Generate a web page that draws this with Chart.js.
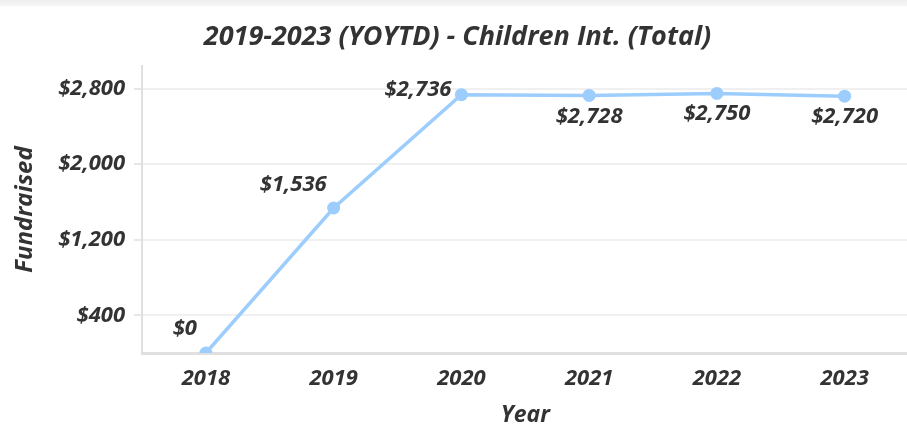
<!DOCTYPE html>
<html>
<head>
<meta charset="utf-8">
<script src="https://cdn.jsdelivr.net/npm/chart.js@4/dist/chart.umd.min.js"></script>
<style>
  html, body { margin: 0; padding: 0; background: #fff; overflow: hidden; }
  #strip { position: absolute; left: 0; top: 0; width: 907px; height: 6px; background: linear-gradient(#efefef, #f6f6f6); }
  #wrap { position: absolute; left: 0; top: 0; width: 915px; height: 439px; }
</style>
</head>
<body>
<div id="wrap"><canvas id="c" width="915" height="439"></canvas></div>
<div id="strip"></div>
<script>
const categories = ['2018', '2019', '2020', '2021', '2022', '2023'];
const fundraised = [0, 1536, 2736, 2728, 2750, 2720];
const yTickValues = [400, 1200, 2000, 2800];
const titleText = '2019-2023 (YOYTD) - Children Int. (Total)';

const TEXT = '#333333';
const FONT = 'Open Sans';

function money(v) { return '$' + Number(v).toLocaleString('en-US'); }

// label placement per point: [dx, dy, textAlign]
const labelPlacement = [
  [-9, -24, 'right'],
  [-7, -23, 'right'],
  [-10, -5, 'right'],
  [0, 21, 'center'],
  [0, 20, 'center'],
  [0, 21, 'center']
];

const valueLabels = {
  id: 'valueLabels',
  afterDatasetsDraw(chart) {
    const ctx = chart.ctx;
    const meta = chart.getDatasetMeta(0);
    ctx.save();
    ctx.font = 'italic 700 22px "' + FONT + '"';
    ctx.fillStyle = TEXT;
    ctx.textBaseline = 'middle';
    meta.data.forEach((pt, i) => {
      const p = labelPlacement[i];
      ctx.textAlign = p[2];
      ctx.fillText(money(chart.data.datasets[0].data[i]), pt.x + p[0], pt.y + p[1]);
    });
    ctx.restore();
  }
};

new Chart(document.getElementById('c'), {
  type: 'line',
  data: {
    labels: categories,
    datasets: [{
      label: 'Fundraised',
      data: fundraised,
      borderColor: '#9ccdfd',
      backgroundColor: '#9ccdfd',
      borderWidth: 3.5,
      pointRadius: 6.5,
      pointHoverRadius: 6.5,
      pointBorderWidth: 0,
      tension: 0,
      clip: 0
    }]
  },
  options: {
    responsive: false,
    animation: false,
    devicePixelRatio: 1,
    layout: { padding: 0 },
    plugins: {
      legend: { display: false },
      tooltip: { enabled: false },
      title: {
        display: true,
        text: titleText,
        color: TEXT,
        font: { family: FONT, size: 27, weight: '700', style: 'italic', lineHeight: 1.2 },
        padding: { top: 21, bottom: 12.6 }
      }
    },
    scales: {
      x: {
        offset: true,
        grid: { display: false },
        border: { display: true, color: '#e0e0e0', width: 3 },
        ticks: {
          color: TEXT,
          padding: 5,
          font: { family: FONT, size: 22, weight: '700', style: 'italic' }
        },
        title: {
          display: true,
          text: 'Year',
          color: TEXT,
          font: { family: FONT, size: 23, weight: '700', style: 'italic', lineHeight: 1.2 },
          padding: { top: 0, bottom: 10 }
        },
        afterFit(scale) { scale.height = 86; scale.paddingLeft = 0; scale.paddingRight = 0; }
      },
      y: {
        min: 0,
        max: 3040,
        afterBuildTicks(scale) { scale.ticks = yTickValues.map(v => ({ value: v })); },
        grid: { color: '#f0f0f0', lineWidth: 2, tickLength: 8, tickColor: '#e6e6e6' },
        border: { display: true, color: '#e0e0e0', width: 2 },
        ticks: {
          color: TEXT,
          padding: 9,
          font: { family: FONT, size: 22, weight: '700', style: 'italic' },
          callback: (v) => money(v)
        },
        title: {
          display: true,
          text: 'Fundraised',
          color: TEXT,
          font: { family: FONT, size: 24, weight: '700', style: 'italic', lineHeight: 1.2 },
          padding: { top: 10.6, bottom: 0 }
        },
        afterFit(scale) { scale.width = 142; scale.paddingTop = 0; scale.paddingBottom = 0; }
      }
    }
  },
  plugins: [valueLabels]
});
</script>
</body>
</html>
